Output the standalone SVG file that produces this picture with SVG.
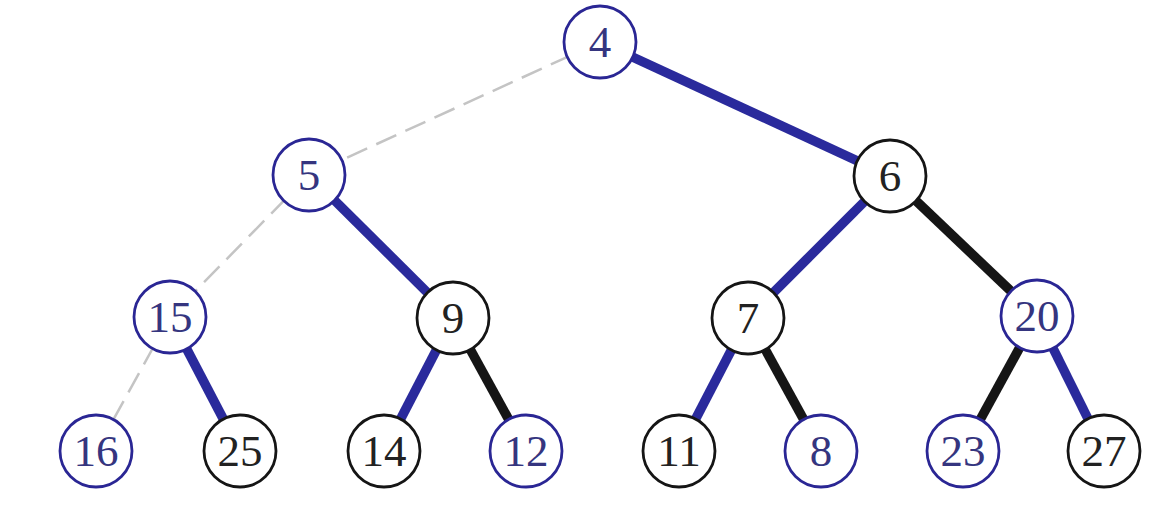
<svg xmlns="http://www.w3.org/2000/svg" width="1156" height="506" viewBox="0 0 1156 506">
<style>
.n circle{fill:#fff;stroke-width:2.8}
.b circle{stroke:#2a2694}
.k circle{stroke:#151515}
.n text{font-family:"Liberation Serif","Times New Roman",serif;font-size:45px;text-anchor:middle;dominant-baseline:central}
.b text{fill:#35357f}
.k text{fill:#222}
.eb{stroke:#2a2a9c;stroke-width:9.5}
.ek{stroke:#151515;stroke-width:9.5}
.eg{stroke:#c4c4c4;stroke-width:2.5;stroke-dasharray:22 10}
</style>
<rect width="1156" height="506" fill="#fff"/>
<g id="edges" fill="none">
<line class="eg" x1="600" y1="42" x2="309" y2="175"/>
<line class="eb" x1="600" y1="42" x2="890" y2="176"/>
<line class="eg" x1="309" y1="175" x2="170" y2="317"/>
<line class="eb" x1="309" y1="175" x2="453" y2="318"/>
<line class="eb" x1="890" y1="176" x2="748" y2="318"/>
<line class="ek" x1="890" y1="176" x2="1037" y2="316"/>
<line class="eg" x1="170" y1="317" x2="96" y2="451"/>
<line class="eb" x1="170" y1="317" x2="240" y2="451"/>
<line class="eb" x1="453" y1="318" x2="384" y2="451"/>
<line class="ek" x1="453" y1="318" x2="526" y2="451"/>
<line class="eb" x1="748" y1="318" x2="679" y2="451"/>
<line class="ek" x1="748" y1="318" x2="821" y2="451"/>
<line class="ek" x1="1037" y1="316" x2="963" y2="451"/>
<line class="eb" x1="1037" y1="316" x2="1104" y2="451"/>
</g>
<g id="n4" class="n b"><circle cx="600" cy="42" r="36"/><text x="600" y="42">4</text></g>
<g id="n5" class="n b"><circle cx="309" cy="175" r="36"/><text x="309" y="175">5</text></g>
<g id="n6" class="n k"><circle cx="890" cy="176" r="36"/><text x="890" y="176">6</text></g>
<g id="n15" class="n b"><circle cx="170" cy="317" r="36"/><text x="170" y="317">15</text></g>
<g id="n9" class="n k"><circle cx="453" cy="318" r="36"/><text x="453" y="318">9</text></g>
<g id="n7" class="n k"><circle cx="748" cy="318" r="36"/><text x="748" y="318">7</text></g>
<g id="n20" class="n b"><circle cx="1037" cy="316" r="36"/><text x="1037" y="316">20</text></g>
<g id="n16" class="n b"><circle cx="96" cy="451" r="36"/><text x="96" y="451">16</text></g>
<g id="n25" class="n k"><circle cx="240" cy="451" r="36"/><text x="240" y="451">25</text></g>
<g id="n14" class="n k"><circle cx="384" cy="451" r="36"/><text x="384" y="451">14</text></g>
<g id="n12" class="n b"><circle cx="526" cy="451" r="36"/><text x="526" y="451">12</text></g>
<g id="n11" class="n k"><circle cx="679" cy="451" r="36"/><text x="679" y="451">11</text></g>
<g id="n8" class="n b"><circle cx="821" cy="451" r="36"/><text x="821" y="451">8</text></g>
<g id="n23" class="n b"><circle cx="963" cy="451" r="36"/><text x="963" y="451">23</text></g>
<g id="n27" class="n k"><circle cx="1104" cy="451" r="36"/><text x="1104" y="451">27</text></g>
</svg>
